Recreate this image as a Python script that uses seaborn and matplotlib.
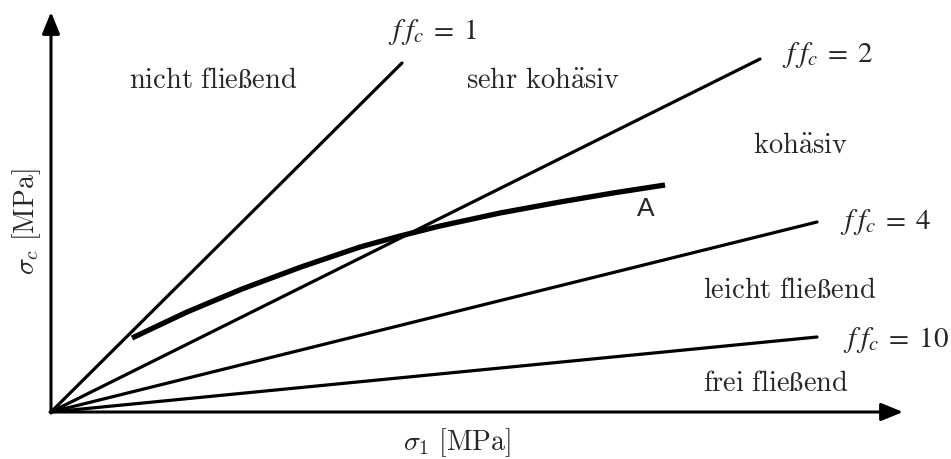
import matplotlib
matplotlib.use("Agg")
import matplotlib.pyplot as plt
import seaborn as sns

# Fließfähigkeit ff_c = sigma_1 / sigma_c, Linien vom Ursprung
ff_values = [1, 2, 4, 10]
sigma1_end = [3.51, 7.09, 7.66, 7.66]
sigmac_end = [3.49, 3.53, 1.90, 0.75]
ff_label_x = [3.37, 7.31, 7.89, 7.92]
ff_label_y = [3.81, 3.58, 1.91, 0.73]

# Fließort-Kurve A
a_sigma1 = [0.81, 1.36, 1.91, 2.50, 3.09, 3.49, 3.89, 4.49, 5.09, 5.62, 6.14]
a_sigmac = [0.74, 1.00, 1.23, 1.45, 1.65, 1.76, 1.86, 1.99, 2.10, 2.19, 2.27]

# Bereiche (mathtext, damit ä und ß zur Computer-Modern-Schrift passen)
region_names = [r'$\mathrm{nicht\ flie\ss end}$', r'$\mathrm{sehr\ koh\ddot{a}siv}$',
                r'$\mathrm{koh\ddot{a}siv}$', r'$\mathrm{leicht\ flie\ss end}$',
                r'$\mathrm{frei\ flie\ss end}$']
region_x = [1.62, 4.92, 7.49, 7.39, 7.25]
region_y = [3.33, 3.33, 2.68, 1.23, 0.30]

sns.set_theme(style="white")

fig = plt.figure(figsize=(9.51, 4.60), dpi=100)
ax = fig.add_axes([0, 0, 1, 1])
ax.set_xlim(-0.51, 9.00)
ax.set_ylim(-0.47, 4.13)
ax.set_axis_off()

for ff, x1, y1, lx, ly in zip(ff_values, sigma1_end, sigmac_end, ff_label_x, ff_label_y):
    sns.lineplot(x=[0, x1], y=[0, y1], color='black', linewidth=2.3, ax=ax)
    ax.text(lx, ly, rf'$f\:f_c\;=\;{ff}$', fontsize=21, va='center', ha='left',
            math_fontfamily='stix')

sns.lineplot(x=a_sigma1, y=a_sigmac, color='black', linewidth=3.8, ax=ax, sort=False,
             solid_joinstyle='round', solid_capstyle='butt')
ax.text(5.95, 2.04, 'A', fontsize=19, ha='center', va='center', family='Liberation Sans')

for name, x, y in zip(region_names, region_x, region_y):
    ax.text(x, y, name, fontsize=20.5, ha='center', va='center', math_fontfamily='cm')

# Achsen mit Pfeilen
arrow = dict(arrowstyle='-|>,head_length=1.1,head_width=0.45', color='black', lw=2.2,
             shrinkA=0, shrinkB=0)
ax.annotate('', xy=(8.52, 0), xytext=(-0.01, 0), arrowprops=arrow)
ax.annotate('', xy=(0, 4.00), xytext=(0, -0.01), arrowprops=arrow)

ax.text(4.06, -0.30, r'$\sigma_1\ [\mathrm{MPa}]$', fontsize=20, ha='center', va='center',
        math_fontfamily='cm')
ax.text(-0.24, 1.91, r'$\sigma_c\ [\mathrm{MPa}]$', fontsize=20, ha='center', va='center',
        rotation=90, math_fontfamily='cm')

fig.savefig('out.png', dpi=100)
